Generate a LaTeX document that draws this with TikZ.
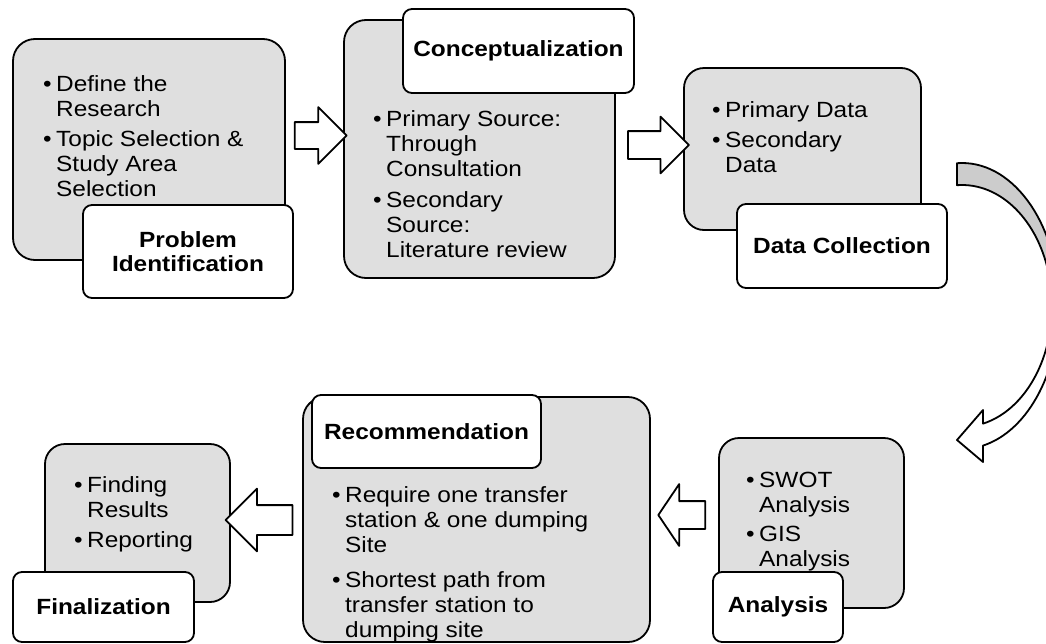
\documentclass[tikz,border=0pt]{standalone}
\usepackage{fontspec}
\setmainfont{Liberation Sans}[FakeStretch=1.11]
\usetikzlibrary{shapes.arrows,calc}

\begin{document}
\begin{tikzpicture}[x=1pt,y=-1pt,line join=round,
  every node/.append style={font=\fontsize{22}{25}\selectfont},
  stage/.style={draw,line width=1.8pt,fill=gray!25,rounded corners=22pt,inner sep=0pt},
  tag/.style={draw,line width=1.8pt,fill=white,rounded corners=9pt,align=center,inner sep=0pt,font=\fontsize{22}{24}\selectfont\bfseries},
  items/.style={anchor=north west,align=left,inner sep=0pt},
  blk/.style={single arrow,draw,line width=1.8pt,fill=white,inner xsep=0pt,inner ysep=13pt,single arrow head extend=15pt}]
\def\bul{\llap{\textbullet\hspace{4.5pt}}}
\useasboundingbox (0,0) rectangle (1046,643);\clip (0,0) rectangle (1046,643);
% stages
\node[stage,minimum width=272,minimum height=221] (pid) at (149,149.5) {};
\node[items] (pidtxt) at (56,75) {\bul Define the\\Research\\[5pt]\bul Topic Selection \&\\Study Area\\Selection};
\node[tag,minimum width=210,minimum height=93] (pidtag) at (188,251.5) {Problem\\Identification};
\node[stage,minimum width=271,minimum height=258] (con) at (479.5,149) {};
\node[items] (context) at (386,110) {\bul Primary Source:\\Through\\Consultation\\[6pt]\bul Secondary\\Source:\\Literature review};
\node[tag,minimum width=231,minimum height=84] (contag) at (518.5,51) {Conceptualization};
\node[stage,minimum width=237,minimum height=162,rounded corners=20pt] (dcol) at (802.5,149) {};
\node[items] (dcoltxt) at (725,101) {\bul Primary Data\\[5pt]\bul Secondary\\Data};
\node[tag,minimum width=210,minimum height=84] (dcoltag) at (842,246) {Data Collection};
\node[stage,minimum width=185,minimum height=170,rounded corners=20pt] (ana) at (811.5,523) {};
\node[items] (anatxt) at (759,472) {\bul SWOT\\Analysis\\[4pt]\bul GIS\\Analysis};
\node[tag,minimum width=130,minimum height=70] (anatag) at (778,607) {Analysis};
\node[stage,minimum width=347,minimum height=245] (rec) at (476.5,519.5) {};
\node[items] (rectxt) at (345,486) {\bul Require one transfer\\station \& one dumping\\Site\\[10pt]\bul Shortest path from\\transfer station to\\dumping site};
\node[tag,minimum width=229,minimum height=73] (rectag) at (426.5,431.5) {Recommendation};
\node[stage,minimum width=185,minimum height=158,rounded corners=20pt] (fin) at (137.5,523) {};
\node[items] (fintxt) at (87,476) {\bul Finding\\Results\\[5pt]\bul Reporting};
\node[tag,minimum width=181,minimum height=70] (fintag) at (103.5,607) {Finalization};
% block arrows
\node[blk,minimum height=52,inner ysep=12.5pt] (a1) at (314,135.5) {};
\node[blk,minimum height=61,single arrow head extend=14.5pt] (a2) at (651.5,145) {};
\node[blk,minimum height=47,shape border rotate=180,single arrow head extend=17pt,single arrow tip angle=112] (a3) at (686.5,515) {};
\node[blk,minimum height=67,shape border rotate=180,inner ysep=14pt,single arrow head extend=16.5pt] (a4) at (266.5,520) {};
% curved arrow down the right side
\coordinate (ctr) at (962,306);
\def\turn{($(ctr)+(267:97 and 143)$) arc[start angle=267,end angle=437.5,x radius=97,y radius=143] -- (983,462) -- (957,440) -- (983,410) -- ($(ctr)+(76.5:90 and 121)$) arc[start angle=436.5,end angle=266.8,x radius=90,y radius=121] -- cycle}
\fill[white] \turn;
\begin{scope}\clip \turn;\fill[gray!40] (900,100) rectangle (1046,300);\end{scope}
\draw[line width=1.8pt] \turn;
\end{tikzpicture}
\end{document}
